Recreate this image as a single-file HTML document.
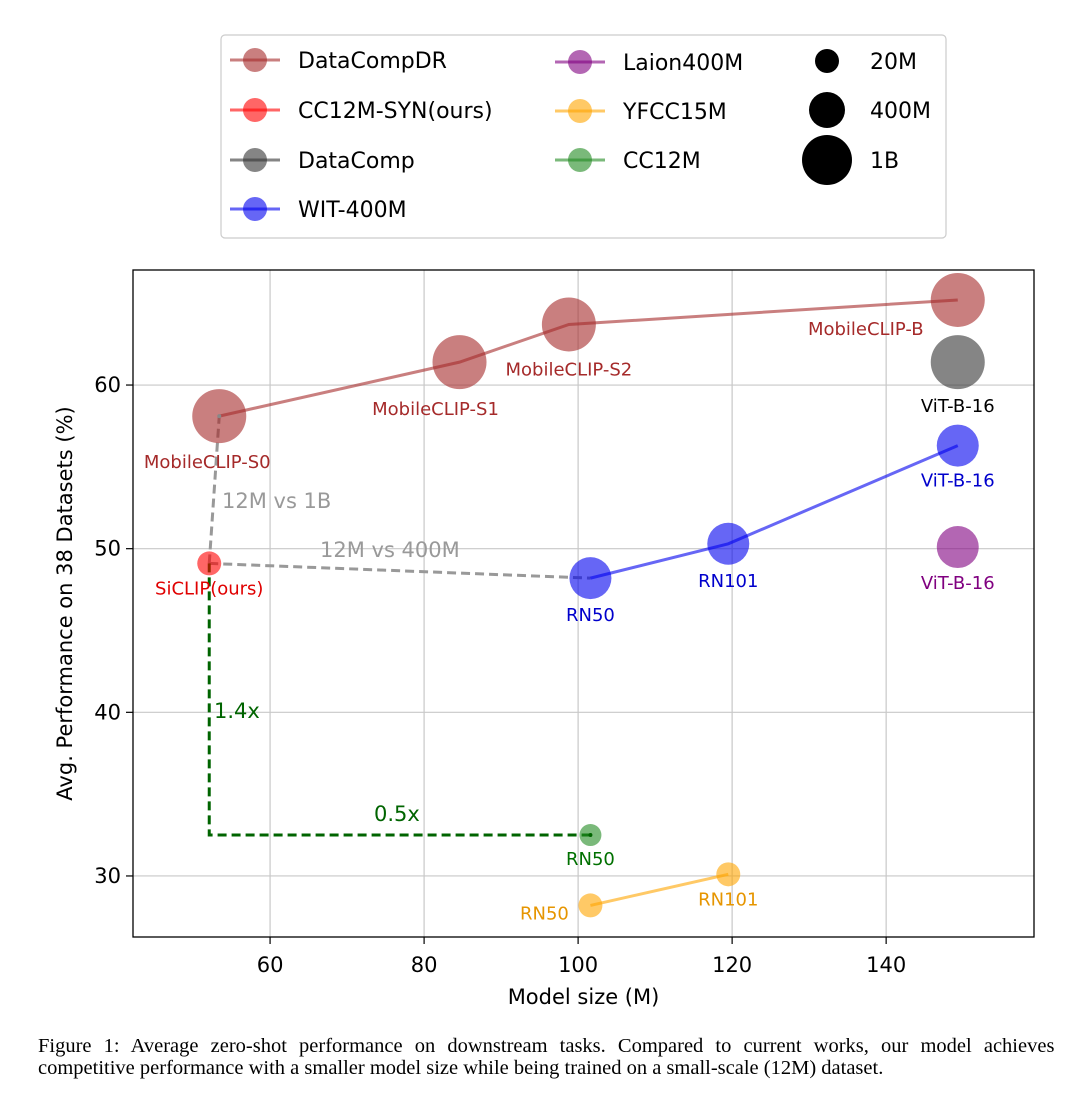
<!DOCTYPE html>
<html><head><meta charset="utf-8"><style>
body{margin:0;background:#fff;width:1080px;height:1109px;overflow:hidden}
svg{display:block}
</style></head><body>
<svg id="chart" width="1080" height="1109" xmlns="http://www.w3.org/2000/svg" font-family="DejaVu Sans, sans-serif"></svg>
<script>
const xTicks=[60,80,100,120,140];
const yTicks=[30,40,50,60];
const dcdrX=[53.4,84.6,98.8,149.3];
const dcdrY=[58.1,61.4,63.7,65.2];
const dcdrL=["MobileCLIP-S0","MobileCLIP-S1","MobileCLIP-S2","MobileCLIP-B"];
const witX=[101.6,119.5,149.3];
const witY=[48.2,50.3,56.3];
const witL=["RN50","RN101","ViT-B-16"];
const yfccX=[101.6,119.5];
const yfccY=[28.2,30.1];
const yfccL=["RN50","RN101"];
const synX=[52.1], synY=[49.1];
const dcX=[149.3], dcY=[61.4];
const laionX=[149.3], laionY=[50.1];
const ccX=[101.6], ccY=[32.5];

const L=133,R=1034,T=270,B=937;
const X=v=>L+(v-42.2)/(159.2-42.2)*(R-L);
const Y=v=>B-(v-26.27)/(67.03-26.27)*(B-T);
const svg=document.getElementById('chart');
const NS='http://www.w3.org/2000/svg';
function mk(tag,attrs,txt){const e=document.createElementNS(NS,tag);for(const k in attrs)e.setAttribute(k,attrs[k]);if(txt!=null)e.textContent=txt;svg.appendChild(e);return e;}

xTicks.forEach(t=>{const g=mk('line',{x1:X(t),x2:X(t),y1:T,y2:B,stroke:'#c8c8c8','stroke-width':1.2});
 const tk=mk('line',{x1:X(t),x2:X(t),y1:B,y2:B+7,stroke:'#000','stroke-width':1.2});
 const lb=mk('text',{x:X(t),y:B+35,'text-anchor':'middle','font-size':21},t);});
yTicks.forEach(t=>{const g=mk('line',{x1:L,x2:R,y1:Y(t),y2:Y(t),stroke:'#c8c8c8','stroke-width':1.2});
 const tk=mk('line',{x1:L-7,x2:L,y1:Y(t),y2:Y(t),stroke:'#000','stroke-width':1.2});
 const lb=mk('text',{x:L-12,y:Y(t)+7,'text-anchor':'end','font-size':21},t);});

let d;
d=mk('polyline',{points:`${X(synX[0])},${Y(synY[0])} ${X(dcdrX[0])},${Y(dcdrY[0])}`,fill:'none',stroke:'#999','stroke-width':3,'stroke-dasharray':'9,5'});
d=mk('polyline',{points:`${X(synX[0])},${Y(synY[0])} ${X(witX[0])},${Y(witY[0])}`,fill:'none',stroke:'#999','stroke-width':3,'stroke-dasharray':'9,5'});
d=mk('polyline',{points:`${X(synX[0])},${Y(synY[0])} ${X(synX[0])},${Y(ccY[0])} ${X(ccX[0])},${Y(ccY[0])}`,fill:'none',stroke:'#006400','stroke-width':3,'stroke-dasharray':'9,5'});

function series(xs,ys,color,r,name,labels,lcol,offs){
 xs.forEach((x,i)=>{const c=mk('circle',{cx:X(x),cy:Y(ys[i]),r:r[i]||r,fill:color,'fill-opacity':0.6});});
 if(xs.length>1){const p=mk('polyline',{points:xs.map((x,i)=>X(x)+','+Y(ys[i])).join(' '),fill:'none',stroke:color,'stroke-opacity':0.6,'stroke-width':3});}
 if(labels)labels.forEach((l,i)=>{const t=mk('text',{x:X(xs[i])+offs[i][0],y:Y(ys[i])+offs[i][1],'text-anchor':'middle','font-size':18,fill:lcol},l);});
}
series(dcdrX,dcdrY,'#a52a2a',[27,27,27,27],'datacompdr',dcdrL,'#a52a2a',[[-12,52],[-24,53],[0,51],[-92,35]]);
series(dcX,dcY,'#333',[27],'datacomp',['ViT-B-16'],'#000',[[0,50]]);
series(witX,witY,'#0000ee',[21,21,21],'wit400m',witL,'#0000cc',[[0,43],[0,43],[0,41]]);
series(laionX,laionY,'#800080',[21],'laion400m',['ViT-B-16'],'#800080',[[0,42]]);
series(ccX,ccY,'#228b22',[11],'cc12m',['RN50'],'#007000',[[0,30]]);
series(yfccX,yfccY,'#ffa500',[12,12],'yfcc15m',yfccL,'#e69500',[[-46,14],[0,31]]);
series(synX,synY,'#ff0000',[12],'cc12m-syn',['SiCLIP(ours)'],'#e00000',[[0,31]]);
mk('circle',{cx:X(ccX[0]),cy:Y(ccY[0]),r:2,fill:'#006400'});
mk('circle',{cx:X(dcdrX[0]),cy:Y(dcdrY[0]),r:2,fill:'#888'});

[["12M vs 1B",222,508,'#999',21],["12M vs 400M",320,557,'#999',21],["1.4x",214,718,'#006400',21],["0.5x",374,821,'#006400',21]].forEach(a=>{const t=mk('text',{x:a[1],y:a[2],fill:a[3],'font-size':a[4]},a[0]);});

let f=mk('rect',{x:L,y:T,width:R-L,height:B-T,fill:'none',stroke:'#000','stroke-width':1.3});

let t=mk('text',{x:(L+R)/2,y:1004,'text-anchor':'middle','font-size':21},'Model size (M)');
t=mk('text',{x:0,y:0,'text-anchor':'middle','font-size':21,transform:`translate(72,${(T+B)/2}) rotate(-90)`},'Avg. Performance on 38 Datasets (%)');

f=mk('rect',{x:221,y:35,width:725,height:203,rx:4,fill:'#fff',stroke:'#ccc','stroke-width':1.2});
const leg=[["DataCompDR",'#a52a2a',230,60],["CC12M-SYN(ours)",'#ff0000',230,110],["DataComp",'#333',230,160],["WIT-400M",'#0000ee',230,209],["Laion400M",'#800080',555,62],["YFCC15M",'#ffa500',555,111],["CC12M",'#228b22',555,160]];
leg.forEach(e=>{const g=mk('line',{x1:e[2],x2:e[2]+50,y1:e[3],y2:e[3],stroke:e[1],'stroke-opacity':0.6,'stroke-width':3});
 const c=mk('circle',{cx:e[2]+25,cy:e[3],r:12,fill:e[1],'fill-opacity':0.6});
 const tx=mk('text',{x:e[2]+68,y:e[3]+8,'font-size':22},e[0]);});
[["20M",12,61],["400M",18,110],["1B",25,160]].forEach(e=>{const c=mk('circle',{cx:827,cy:e[2],r:e[1],fill:'#000'});
 const tx=mk('text',{x:870,y:e[2]+8,'font-size':22},e[0]);});

[["Figure 1:  Average zero-shot performance on downstream tasks.  Compared to current works, our model achieves",1052,'7px'],["competitive performance with a smaller model size while being trained on a small-scale (12M) dataset.",1074,'0px']].forEach(c=>{const tx=mk('text',{x:38,y:c[1],'font-size':20.5,'font-family':'Liberation Serif, serif','word-spacing':c[2]},c[0]);});
</script>
</body></html>
